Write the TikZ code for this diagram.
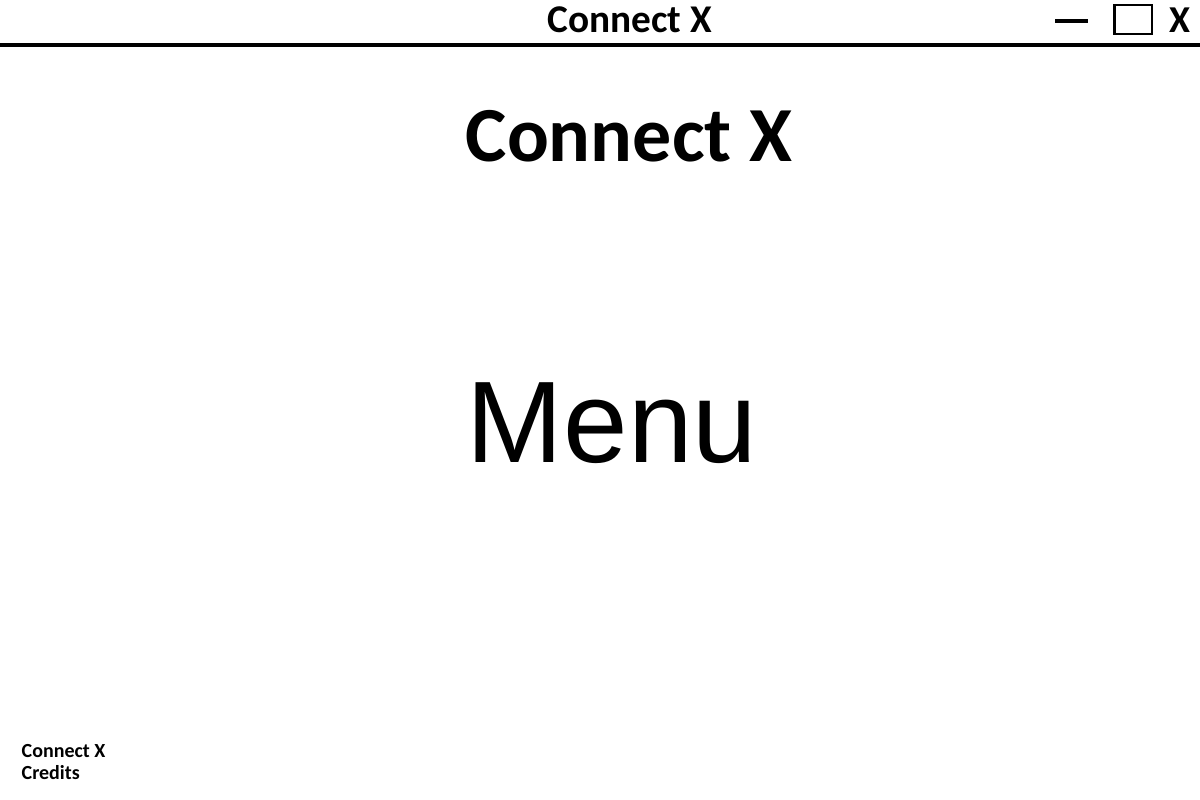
\documentclass[tikz,border=0pt]{standalone}
\usepackage{fontspec}
\setmainfont{Carlito}
\newfontfamily\arialfont{Liberation Sans}
\begin{document}
\begin{tikzpicture}[x=1pt,y=-1pt]
\tikzstyle{every node}+=[inner sep=0pt]
\tikzset{title/.style={font=\fontsize{39.3}{47}\selectfont\bfseries,anchor=base},
  credit/.style={font=\fontsize{20}{24}\selectfont\bfseries,anchor=base west}}
\useasboundingbox (0,0) rectangle (1200,800);
\draw [black,line width=4pt] (0,44.7) -- (1200,44.7);
\node [title] (wintitle) at (629.5,33) {Connect X};
\fill [black] (1055,18.7) rectangle (1088,22.7);
\draw [black,line width=2.3pt] (1114.5,5.2) rectangle (1152.2,33.8);
\node [title,font=\fontsize{38}{46}\selectfont\bfseries] (closex) at (1179.5,33) {X};
\node [title,font=\fontsize{78}{94}\selectfont\bfseries] (heading) at (629,161) {Connect X};
\node [anchor=base,font=\arialfont\fontsize{116}{140}\selectfont] (menu) at (612,462) {Menu};
\node [credit] (credit1) at (21.5,757) {Connect X};
\node [credit] (credit2) at (21.5,779) {Credits};
\end{tikzpicture}
\end{document}
